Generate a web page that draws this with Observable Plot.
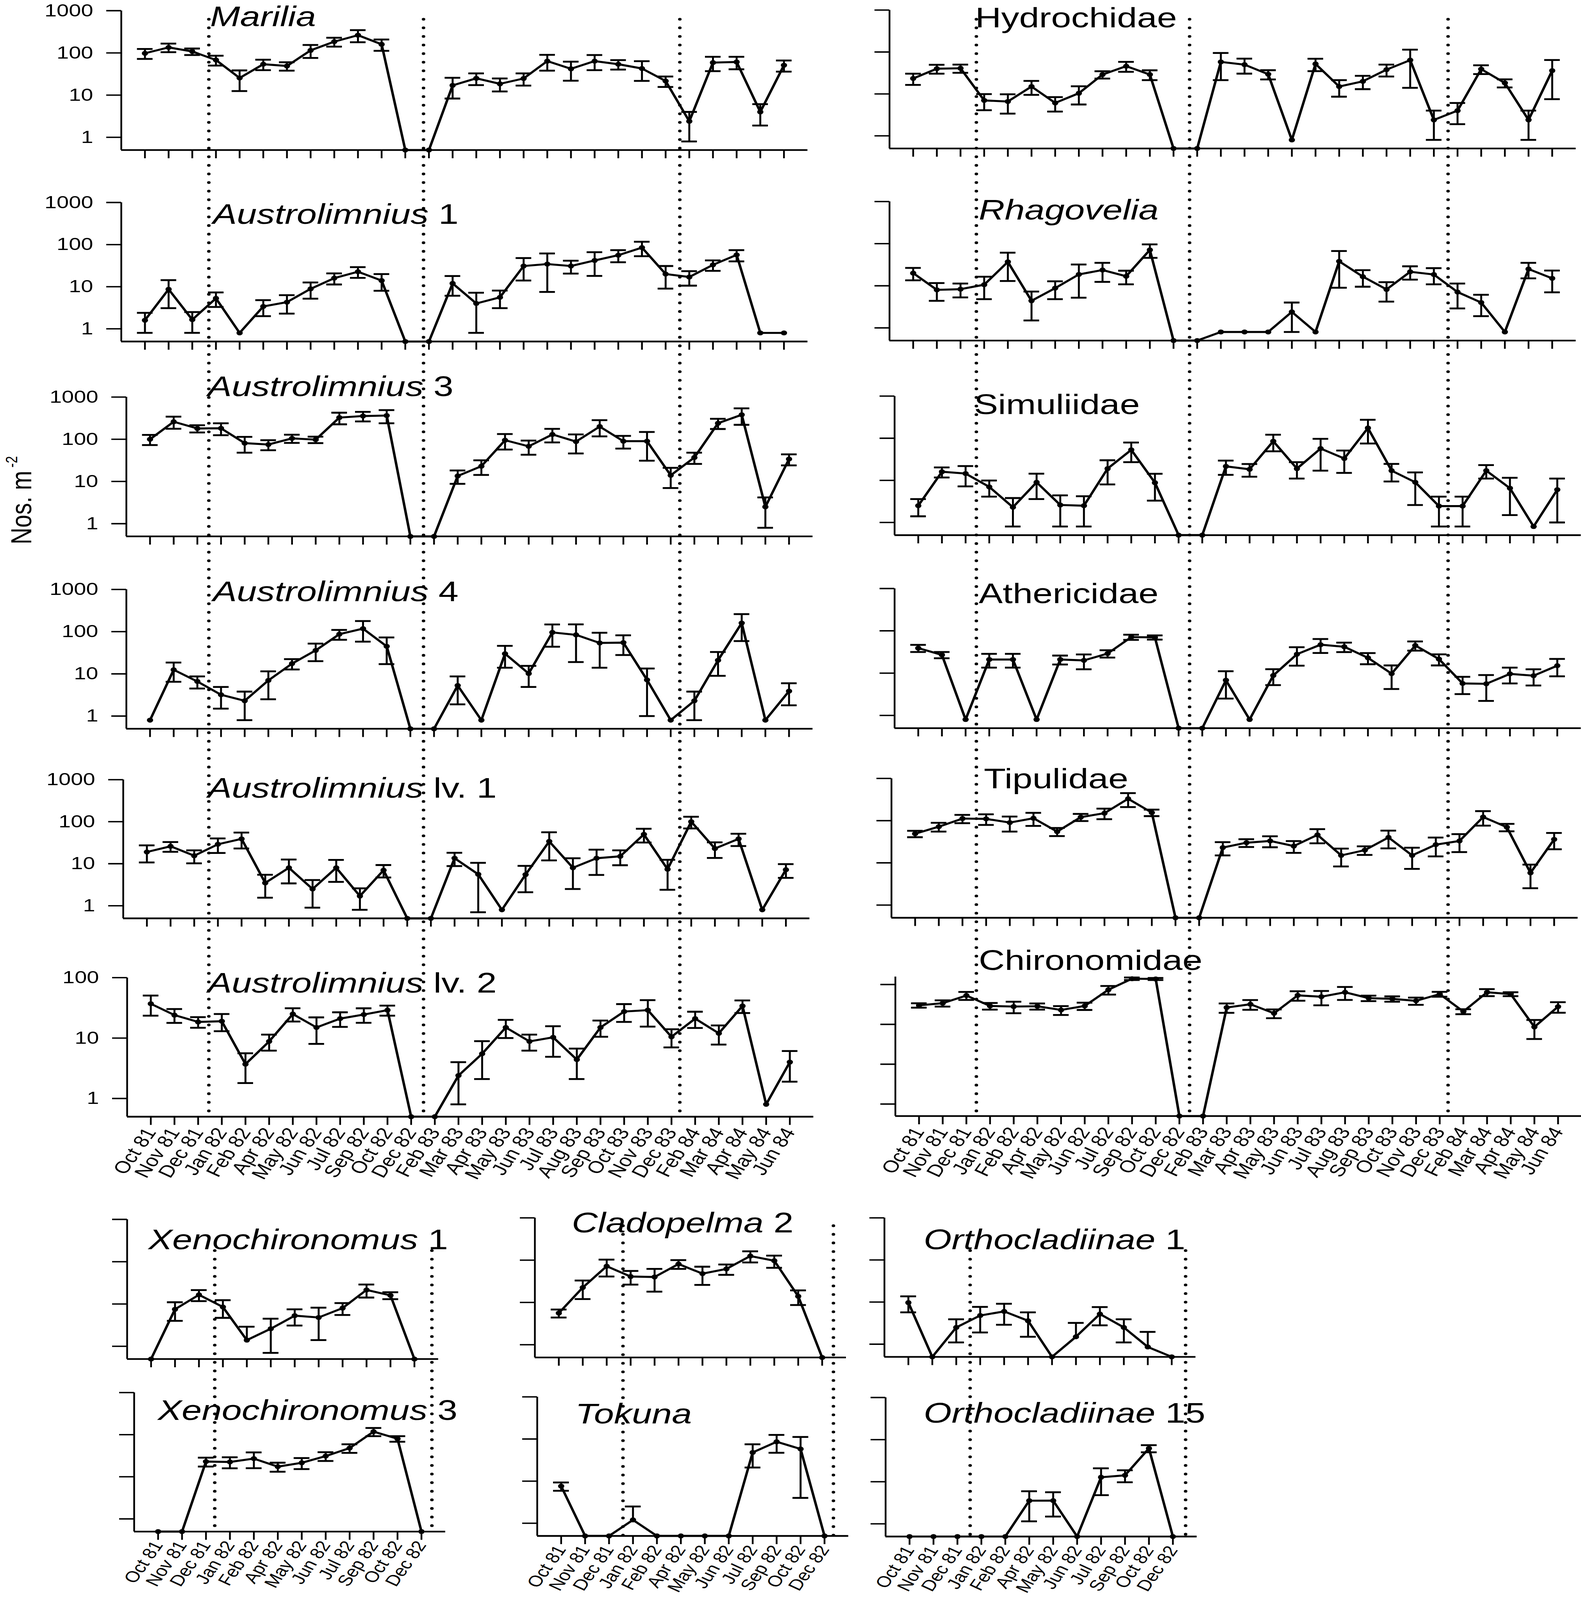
<!DOCTYPE html>
<html>
<head>
<meta charset="utf-8">
<script src="https://cdn.jsdelivr.net/npm/d3@7"></script>
<script src="https://cdn.jsdelivr.net/npm/@observablehq/plot@0.6"></script>
<style>
  html, body { margin: 0; padding: 0; background: #fff; overflow: hidden; }
  #page { position: relative; width: 4048px; height: 5156px; background: #fff; overflow: hidden;
          font-family: "Liberation Sans", Arial, Helvetica, sans-serif; color: #000; transform-origin: 0 0; }
  .panel { position: absolute; }
  .panel svg { overflow: visible; max-width: none; }
  .title { position: absolute; font-size: 92px; line-height: 68px; white-space: nowrap; }
  .title i { font-style: italic; }
  #ylab { position: absolute; font-size: 75px; line-height: 75px; white-space: nowrap;
          transform: translate(-50%, -50%) rotate(-90deg); }
</style>
</head>
<body>
<div id="page"></div>
<script>
// ---------- tick labels ----------
const monthsLong = ["Oct 81","Nov 81","Dec 81","Jan 82","Feb 82","Apr 82","May 82","Jun 82","Jul 82","Sep 82","Oct 82","Dec 82","Feb 83","Mar 83","Apr 83","May 83","Jun 83","Jul 83","Aug 83","Sep 83","Oct 83","Nov 83","Dec 83","Feb 84","Mar 84","Apr 84","May 84","Jun 84"];
const monthsShort = ["Oct 81","Nov 81","Dec 81","Jan 82","Feb 82","Apr 82","May 82","Jun 82","Jul 82","Sep 82","Oct 82","Dec 82"];
const yTicks = [1, 10, 100, 1000];

// ---------- series: means and standard errors (Nos. m-2) ----------
const marilia      = [98,135,108,68,25.5,54,49,115,185,263,160,0,0,17,25,18.5,24.8,64,42,64,54,42.7,21.6,2.4,59,61,4,51];
const mariliaSE    = [26,31,19,18,13,15,11,39,44,84,48,0,0,8.7,7.7,6.3,8,26,20,25,13.7,21,6,1.6,22,20,2.1,15];
const hydrochidae   = [23.4,40,41,7,6.6,15,6.1,10.4,29,45.9,29,0,0,58,50,29.5,0.8,52,15,20,38,64,2.4,4,39,18.3,2.4,36];
const hydrochidaeSE = [7,9.6,9,2.9,3.2,5.5,2.3,4.8,5.7,12.3,7.6,0,0,36.7,19.5,7.3,0,17,6.4,7,12,50,1.6,2.1,9.3,4,1.6,28.5];
const austro1   = [1.6,8.7,1.65,5.3,0.8,3.4,4.3,8.9,16,22.7,14,0,0,12,4,5.6,31,34.5,31,42,56,85,20,17,33,57,0.8,0.8];
const austro1SE = [0.8,5.6,0.85,2,0,1.4,2,3.7,4.7,6.5,6,0,0,5.9,3.2,2.5,17,27,10.5,24,18,32,11,6.4,9.2,17,0,0];
const rhagovelia   = [20,8,8.3,10.6,37,4.4,8.8,18.6,23.7,16.8,71,0,0,0.8,0.8,0.8,2.4,0.8,38,16.5,8.2,21.5,18.5,7.1,4,0.8,25,15];
const rhagoveliaSE = [6.5,3.6,3,5.8,24,2.9,4,13.4,11.3,6,25,0,0,0,0,0,1.6,0,29,7,4,7.5,7.7,4.2,2.1,0,10,8];
const austro3   = [100,260,180,182,81,75,105,98,326,355,365,0,0,13.5,23,95,68,130,88,200,90,90,14,37,240,380,2.5,34];
const austro3SE = [27,83,35,57,33,20,23,17,100,90,126,0,0,4.7,8.7,38,25,46,42,83,30,59,7,11,65,160,1.7,10];
const simuliidae   = [2.5,16,14.5,7,2.3,9,2.6,2.5,19,53,8.8,0,0,21.5,18.3,85,19,57,33,175,17,9,2.45,2.45,17,6.5,0.8,6];
const simuliidaeSE = [1.1,4.3,7.3,2.9,1.5,5.4,1.8,1.7,11,26,5.5,0,0,8,6.1,36,8,40,18,100,7.6,6.4,1.65,1.65,6,5,0,5];
const austro4   = [0.8,12.5,6.6,3.2,2.3,7,17.5,36,87,118,45,0,0,5.3,0.8,30,10.2,96,84,54,55,7.2,0.8,2.3,21,160,0.8,3.9];
const austro4SE = [0,6,2.1,1.7,1.5,4.5,4.8,16,23,60,28,0,0,3.4,0,16,5.3,52,65,40,27,6.2,0,1.5,12,100,0,2.1];
const athericidae   = [39,27,0.8,21,21,0.8,21,20,29,71,70,0,0,6.8,0.8,8.8,28,47,42,23,9.7,45,21.5,5.7,5.6,9.6,8.7,15];
const athericidaeSE = [7.5,4.5,0,7.5,7.5,0,5,7.7,5.7,10,8,0,0,4.3,0,3.6,13,17,10.6,6.8,5.5,11,6.3,2.5,3.4,3.9,3.6,6.6];
const austroLv1   = [19,26,15.5,29,39,3.5,8,2.5,8,1.7,7,0,0,13.5,5.6,0.8,5.5,34,8,13.5,15,50,7.4,100,23,39,0.8,7.2];
const austroLv1SE = [8.3,6.8,5.3,11,16,1.95,4.6,1.6,4.3,0.9,2.3,0,0,4.7,4.9,0,3.4,22,5.5,8.1,5.8,18,5,31,9.3,12.7,0,2.6];
const tipulidae   = [49,72,112,110,90,114,55,121,150,330,155,0,0,23,30,33,25,46,15,20,40,15,27,33,122,70,5.8,36];
const tipulidaeSE = [8.5,17,25,31,35,39,12,23,42,120,27,0,0,8,6.3,9.6,7.8,17,6.8,4.6,18,7.8,12.8,15,46,14,3.3,15];
const austroLv2   = [37,24,18.5,19,3.7,8.8,25,15,21,24.5,29,0,0,2.4,5.5,15,8.8,10.3,4.4,15,27.5,29,10.5,21,12,34,0.8,4];
const austroLv2SE = [13.5,6.2,3.7,6,1.9,2.6,6.2,7,5.7,6.6,5.5,0,0,1.6,3.4,5,2.6,5.4,2.3,4.5,9,13.5,3.5,6.3,4.2,8,0,2.1];
const chironomidae   = [300,340,530,290,280,285,230,290,740,1400,1380,0,0,265,320,190,535,495,640,455,437,390,575,210,640,575,86,278];
const chironomidaeSE = [38,60,120,55,90,50,58,60,180,100,80,0,0,70,88,47,143,195,230,72,67,80,80,30,128,65,43,82];

const xeno1   = [0,7.5,16.5,8.5,1.4,2.6,5.3,4.8,8,21.5,16,0];
const xeno1SE = [0,3.5,4.8,3.8,1.5,1.9,2.2,3.4,2.5,7.3,3,0];
const clado2   = [5.6,22.5,72,41,40,81,48,62,125,97,14,0];
const clado2SE = [1.2,10.5,31,14.6,22,19,22,17,37,31,5.3,0];
const ortho1   = [9.7,0,2.5,4.8,6,3.6,0,1.5,5.2,2.5,0.86,0];
const ortho1SE = [4,0,1.4,2.9,3.1,2.1,0,1.7,2.4,1.4,1.1,0];
const xeno3   = [0,0,23,22.5,27,17.4,21.5,31,48,118,80,0];
const xeno3SE = [0,0,5.5,6.6,11,4.2,6.3,7.3,11,26,12,0];
const tokuna   = [7.6,0,0,1.2,0,0,0,0,48,86,58,0];
const tokunaSE = [1.7,0,0,1.3,0,0,0,0,27,39,54,0];
const ortho15   = [0,0,0,0,0,3.55,3.56,0,12.8,14.2,62,0];
const ortho15SE = [0,0,0,0,0,2.4,2.07,0,8,4.5,12,0];

// positions of the dotted reference lines (in month-index units of each column)
const dottedTopLeft  = [2.7, 11.77, 22.6];
const dottedTopRight = [2.67, 11.68, 22.6];
const dottedBotLeft  = [2.66, 11.73];
const dottedBotMid   = [2.68, 11.47];
const dottedBotRight = [2.58, 11.58];

// ---------- layout (in 4048 x 5156 page units) ----------
const PAGE_W = 4048, PAGE_H = 5156;
const STEP_TOP = 60.6, STEP_BOT = 61.3, Y_MIN = 0.5;
const panels = [
  {it:"Marilia", rest:"", mean:marilia, se:mariliaSE, months:monthsLong, step:STEP_TOP, x0:310, top:34, base:483, yMax:1000, yLab:true, xLab:false, tx:538, tb:84},
  {it:"Austrolimnius", rest:" 1", mean:austro1, se:austro1SE, months:monthsLong, step:STEP_TOP, x0:310, top:652, base:1100, yMax:1000, yLab:true, xLab:false, tx:545, tb:721},
  {it:"Austrolimnius", rest:" 3", mean:austro3, se:austro3SE, months:monthsLong, step:STEP_TOP, x0:323, top:1279, base:1728, yMax:1000, yLab:true, xLab:false, tx:532, tb:1276},
  {it:"Austrolimnius", rest:" 4", mean:austro4, se:austro4SE, months:monthsLong, step:STEP_TOP, x0:323, top:1899, base:2348, yMax:1000, yLab:true, xLab:false, tx:545, tb:1937},
  {it:"Austrolimnius", rest:" lv. 1", mean:austroLv1, se:austroLv1SE, months:monthsLong, step:STEP_TOP, x0:315, top:2512, base:2959, yMax:1000, yLab:true, xLab:false, tx:532, tb:2570},
  {it:"Austrolimnius", rest:" lv. 2", mean:austroLv2, se:austroLv2SE, months:monthsLong, step:STEP_TOP, x0:325, top:3150, base:3598, yMax:100, yLab:true, xLab:true, tx:532, tb:3198},
  {it:"", rest:"Hydrochidae", mean:hydrochidae, se:hydrochidaeSE, months:monthsLong, step:STEP_TOP, x0:2277, top:32, base:478, yMax:1000, yLab:false, xLab:false, tx:2497, tb:88},
  {it:"Rhagovelia", rest:"", mean:rhagovelia, se:rhagoveliaSE, months:monthsLong, step:STEP_TOP, x0:2277, top:649, base:1097, yMax:1000, yLab:false, xLab:false, tx:2506, tb:708},
  {it:"", rest:"Simuliidae", mean:simuliidae, se:simuliidaeSE, months:monthsLong, step:STEP_TOP, x0:2290, top:1276, base:1724, yMax:1000, yLab:false, xLab:false, tx:2494, tb:1334},
  {it:"", rest:"Athericidae", mean:athericidae, se:athericidaeSE, months:monthsLong, step:STEP_TOP, x0:2290, top:1896, base:2346, yMax:1000, yLab:false, xLab:false, tx:2506, tb:1943},
  {it:"", rest:"Tipulidae", mean:tipulidae, se:tipulidaeSE, months:monthsLong, step:STEP_TOP, x0:2282, top:2508, base:2957, yMax:1000, yLab:false, xLab:false, tx:2519, tb:2540},
  {it:"", rest:"Chironomidae", mean:chironomidae, se:chironomidaeSE, months:monthsLong, step:STEP_TOP, x0:2292, top:3147, base:3596, yMax:1570, yLab:false, xLab:true, tx:2506, tb:3126},
  {it:"Xenochironomus", rest:" 1", mean:xeno1, se:xeno1SE, months:monthsShort, step:STEP_BOT, x0:325, top:3929, base:4379, yMax:1000, yLab:false, xLab:false, tx:380, tb:4025},
  {it:"Cladopelma", rest:" 2", mean:clado2, se:clado2SE, months:monthsShort, step:STEP_BOT, x0:1369, top:3924, base:4374, yMax:1000, yLab:false, xLab:false, tx:1464, tb:3971},
  {it:"Orthocladiinae", rest:" 1", mean:ortho1, se:ortho1SE, months:monthsShort, step:STEP_BOT, x0:2264, top:3924, base:4372, yMax:1000, yLab:false, xLab:false, tx:2365, tb:4025},
  {it:"Xenochironomus", rest:" 3", mean:xeno3, se:xeno3SE, months:monthsShort, step:STEP_BOT, x0:343, top:4487, base:4935, yMax:1000, yLab:false, xLab:true, tx:404, tb:4576},
  {it:"Tokuna", rest:"", mean:tokuna, se:tokunaSE, months:monthsShort, step:STEP_BOT, x0:1375, top:4501, base:4949, yMax:1000, yLab:false, xLab:true, tx:1473, tb:4587},
  {it:"Orthocladiinae", rest:" 15", mean:ortho15, se:ortho15SE, months:monthsShort, step:STEP_BOT, x0:2267, top:4503, base:4951, yMax:1000, yLab:false, xLab:true, tx:2365, tb:4585}
];

const overlays = [
  {pos:dottedTopLeft,  n:28, step:STEP_TOP, x0:310,  top:62,   bottom:3605},
  {pos:dottedTopRight, n:28, step:STEP_TOP, x0:2277, top:62,   bottom:3600},
  {pos:dottedBotLeft,  n:12, step:STEP_BOT, x0:325,  top:4030, bottom:4936},
  {pos:dottedBotMid,   n:12, step:STEP_BOT, x0:1369, top:3950, bottom:4948},
  {pos:dottedBotRight, n:12, step:STEP_BOT, x0:2264, top:4030, bottom:4950}
];

const page = document.getElementById("page");
const FONT = "'Liberation Sans', Arial, Helvetica, sans-serif";
const baseStyle = {background: "transparent", overflow: "visible", fontFamily: FONT, color: "#000", maxWidth: "none"};

function place(node, left, top, w, h) {
  const div = document.createElement("div");
  div.className = "panel";
  div.style.left = left + "px";
  div.style.top = top + "px";
  div.style.width = w + "px";
  div.style.height = h + "px";
  div.appendChild(node);
  page.appendChild(div);
}

function addPanel(p) {
  const n = p.mean.length;
  const isBottomBlock = p.step === STEP_BOT;
  const ML = 240, MR = 20, MT = 10, MB = p.xLab ? 200 : 50;
  const W = ML + (n + 1) * p.step + MR;
  const H = MT + (p.base - p.top) + MB;
  const rows = p.mean.map((m, i) => ({i, m, se: p.se[i], y: m > 0 ? m : Y_MIN}));
  const bars = rows.filter(d => d.m > 0 && d.se > 0);
  const lows = bars.filter(d => d.m - d.se > 0);
  const half = 0.33;
  const yAxisOpts = {ticks: yTicks.filter(t => t <= p.yMax), tickSize: 38, tickPadding: 34, fontSize: 56,
                     strokeWidth: 4.5, tickFormat: d => String(d), label: null};
  if (!p.yLab) yAxisOpts.fill = "none";
  const xAxisOpts = {ticks: d3.range(n), tickSize: 27, tickPadding: isBottomBlock ? 8 : 14,
                     fontSize: isBottomBlock ? 50 : 55, strokeWidth: 4.5,
                     tickRotate: -60, tickFormat: i => p.months[i], label: null};
  if (!p.xLab) xAxisOpts.fill = "none";
  const svg = Plot.plot({
    width: W, height: H,
    marginLeft: ML, marginRight: MR, marginTop: MT, marginBottom: MB,
    style: baseStyle,
    x: {type: "linear", domain: [-1, n]},
    y: {type: "log", domain: [Y_MIN, p.yMax]},
    marks: [
      Plot.axisY(yAxisOpts),
      Plot.axisX(xAxisOpts),
      Plot.ruleX([-1], {strokeWidth: 4.5}),
      Plot.ruleY([Y_MIN], {strokeWidth: 5.5}),
      Plot.ruleX(bars, {x: "i", y1: d => (d.m - d.se > 0 ? d.m - d.se : d.m), y2: d => d.m + d.se, strokeWidth: 5}),
      Plot.ruleY(bars, {y: d => d.m + d.se, x1: d => d.i - half, x2: d => d.i + half, strokeWidth: 6}),
      Plot.ruleY(lows, {y: d => d.m - d.se, x1: d => d.i - half, x2: d => d.i + half, strokeWidth: 6}),
      Plot.line(rows, {x: "i", y: "y", stroke: "black", strokeWidth: 6.5, strokeLinejoin: "round"}),
      Plot.dot(rows, {x: "i", y: "y", r: 8, fill: "black", stroke: "none"})
    ]
  });
  place(svg, p.x0 - ML, p.top - MT, W, H);

  const t = document.createElement("div");
  t.className = "title";
  t.style.left = p.tx + "px";
  t.style.top = (p.tb - 66) + "px";
  if (p.it) { const i = document.createElement("i"); i.textContent = p.it; t.appendChild(i); }
  if (p.rest) t.appendChild(document.createTextNode(p.rest));
  page.appendChild(t);
}

function addOverlay(o) {
  const ML = 100, MR = 20;
  const W = ML + (o.n + 1) * o.step + MR;
  const H = o.bottom - o.top;
  const svg = Plot.plot({
    width: W, height: H, marginLeft: ML, marginRight: MR, marginTop: 0, marginBottom: 0,
    style: baseStyle,
    x: {type: "linear", domain: [-1, o.n], axis: null},
    y: {domain: [0, 1], axis: null},
    marks: [
      Plot.ruleX(o.pos, {strokeWidth: 9, strokeDasharray: "0 27.7", strokeLinecap: "round"})
    ]
  });
  place(svg, o.x0 - ML, o.top, W, H);
}

panels.forEach(addPanel);
overlays.forEach(addOverlay);

const yl = document.createElement("div");
yl.id = "ylab";
yl.style.left = "60px";
yl.style.top = "1612px";
yl.innerHTML = 'Nos. m<span style="font-size:42px;position:relative;top:-36px;margin-left:10px">-2</span>';
page.appendChild(yl);

// The browser viewport may be shorter than the page: fit the whole figure into it
// (same proportions relative to the frame as the reference).
const vh = window.innerHeight || PAGE_H;
const vw = window.innerWidth || PAGE_W;
const sy = Math.min(1, vh / PAGE_H);
const sx = Math.min(1, vw / PAGE_W);
if (sy < 1 || sx < 1) page.style.transform = `scale(${sx}, ${sy})`;
</script>
</body>
</html>
